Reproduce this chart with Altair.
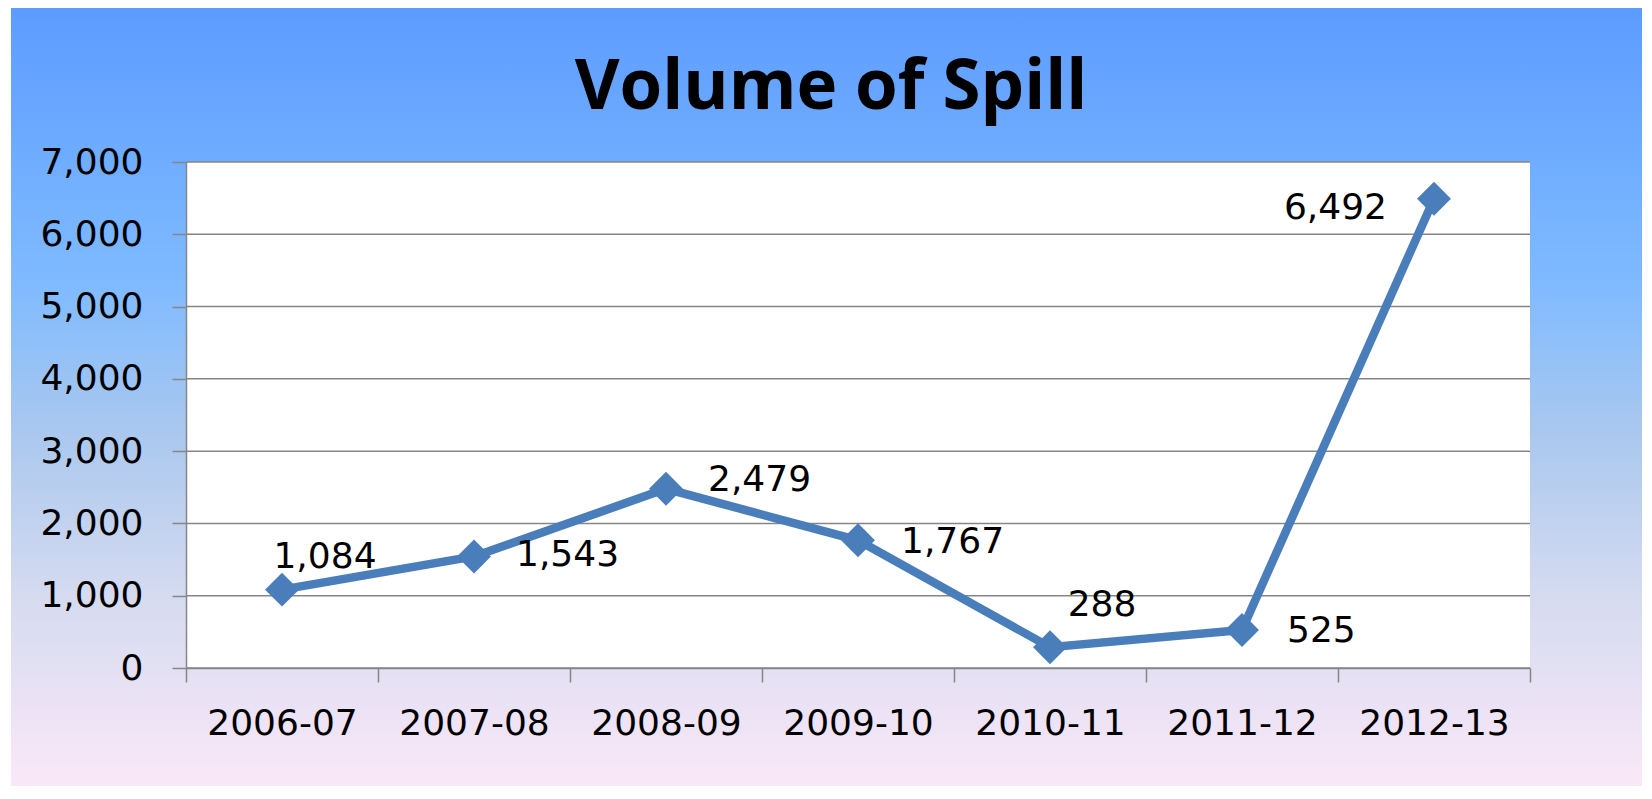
import altair as alt
import pandas as pd

# ---- data ----
years = ["2006-07", "2007-08", "2008-09", "2009-10", "2010-11", "2011-12", "2012-13"]
volumes = [1084, 1543, 2479, 1767, 288, 525, 6492]
y_ticks = [0, 1000, 2000, 3000, 4000, 5000, 6000, 7000]

df = pd.DataFrame({"year": years, "volume": volumes})
grid_df = pd.DataFrame({"volume": y_ticks})

W, H = 1344, 506
PAD = {"left": 178, "top": 154, "right": 112, "bottom": 118}

LINE_COLOR = "#4A7EBB"
AXIS_GRAY = "#868686"
LABEL_FONT = "DejaVu Sans"
FS = 36

x_enc = alt.X(
    "year:N",
    sort=years,
    scale=alt.Scale(type="band", paddingInner=0, paddingOuter=0),
    axis=alt.Axis(
        title=None, labelAngle=0, tickBand="extent", tickSize=14, labelPadding=24,
        labelFont=LABEL_FONT, labelFontSize=FS, labelColor="black",
        domainColor=AXIS_GRAY, tickColor=AXIS_GRAY, domainWidth=1.5, tickWidth=1.5,
        grid=False, zindex=1,
    ),
)
y_axis = alt.Axis(
    title=None, values=y_ticks, format=",.0f", tickSize=14, labelPadding=29,
    labelFont=LABEL_FONT, labelFontSize=FS, labelColor="black",
    domainColor=AXIS_GRAY, tickColor=AXIS_GRAY, domainWidth=1.5, tickWidth=1.5,
    grid=False, zindex=1,
)
y_scale = alt.Scale(domain=[0, 7000], nice=False)
y_enc = alt.Y("volume:Q", scale=y_scale, axis=y_axis)

gradient = alt.LinearGradient(
    gradient="linear",
    stops=[
        alt.GradientStop(color="#5C9CFF", offset=0),
        alt.GradientStop(color="#80BBFF", offset=0.36),
        alt.GradientStop(color="#ABC8EE", offset=0.55),
        alt.GradientStop(color="#D6DBF0", offset=0.76),
        alt.GradientStop(color="#FAE8F8", offset=1),
    ],
    x1=0, x2=0, y1=0, y2=1,
)

one = alt.Data(values=[{"k": 1}])

bg = alt.Chart(one).mark_rect(fill=gradient).encode(
    x=alt.value(-175), x2=alt.value(W + PAD["right"]),
    y=alt.value(-PAD["top"]), y2=alt.value(H + PAD["bottom"]),
)
plot_bg = alt.Chart(one).mark_rect(fill="white").encode(
    x=alt.value(0), x2=alt.value(W), y=alt.value(0), y2=alt.value(H),
)
grid = alt.Chart(grid_df).mark_rule(color=AXIS_GRAY, strokeWidth=1.5).encode(
    y=y_enc,
)

base = alt.Chart(df)
line = base.mark_line(color=LINE_COLOR, strokeWidth=8.5).encode(x=x_enc, y=y_enc)
points = base.mark_point(shape="diamond", filled=True, size=1150, opacity=1,
                         color=LINE_COLOR).encode(x=x_enc, y=y_enc)

# label placement per point (dx, dy, align)
label_place = {
    "2006-07": (43, -33, "center"),
    "2007-08": (42, -1, "left"),
    "2008-09": (42, -9, "left"),
    "2009-10": (43, 2, "left"),
    "2010-11": (52, -42, "center"),
    "2011-12": (45, 1, "left"),
    "2012-13": (-47, 9, "right"),
}
texts = []
for yr, (dx, dy, al) in label_place.items():
    texts.append(
        base.transform_filter(alt.datum.year == yr)
        .mark_text(font=LABEL_FONT, fontSize=FS, color="black", align=al,
                   baseline="middle", dx=dx, dy=dy)
        .encode(x=x_enc, y=y_enc, text=alt.Text("volume:Q", format=","))
    )

chart = alt.layer(bg, plot_bg, grid, line, points, *texts).properties(
    width=W, height=H,
    padding=PAD,
    autosize=alt.AutoSizeParams(type="none"),
    background="white",
    title=alt.TitleParams(
        "Volume of Spill", font="Open Sans", fontSize=69, fontWeight="bold",
        color="black", anchor="middle", dx=-27, offset=-170, baseline="alphabetic",
    ),
).configure_view(stroke=None)

chart.save("out.html", embed_options={"renderer": "svg", "actions": False})
